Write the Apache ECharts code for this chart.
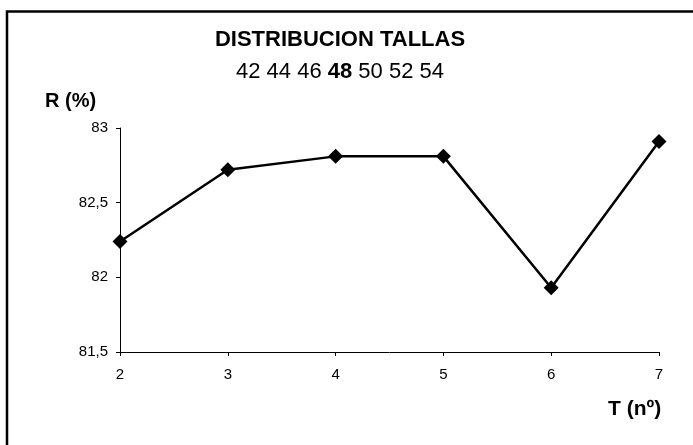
<!DOCTYPE html>
<html>
<head>
<meta charset="utf-8">
<script src="https://cdn.jsdelivr.net/npm/echarts@6/dist/echarts.min.js"></script>
<style>
  html, body { margin: 0; padding: 0; background: #fff; }
  #chart { width: 693px; height: 445px; }
</style>
</head>
<body>
<div id="chart"></div>
<script>
// Number of sizes (T) and the resulting percentage (R)
const tallas = ['2', '3', '4', '5', '6', '7'];
const rValues = [82.24, 82.72, 82.81, 82.81, 81.93, 82.91];
const yTicks = { min: 81.5, max: 83, step: 0.5 };

const FONT = 'Arial, "Liberation Sans", sans-serif';
const chart = echarts.init(document.getElementById('chart'), null, { renderer: 'canvas' });

chart.setOption({
  backgroundColor: '#fff',
  animation: false,
  title: {
    text: 'DISTRIBUCION TALLAS',
    subtext: '42 44 46 {b|48} 50 52 54',
    left: 340,
    textAlign: 'center',
    top: 29,
    itemGap: 10,
    padding: 0,
    textStyle: { fontFamily: FONT, fontSize: 22, fontWeight: 'bold', color: '#000' },
    subtextStyle: {
      fontFamily: FONT, fontSize: 22, color: '#000',
      rich: { b: { fontFamily: FONT, fontSize: 22, fontWeight: 'bold', color: '#000' } }
    }
  },
  grid: { left: 120, right: 34, top: 128, bottom: 93, containLabel: false },
  xAxis: {
    type: 'category',
    data: tallas,
    boundaryGap: false,
    axisLine: { lineStyle: { color: '#000', width: 1 } },
    axisTick: { show: true, length: 4, alignWithLabel: true, lineStyle: { color: '#000' } },
    axisLabel: { fontFamily: FONT, fontSize: 15, color: '#000', margin: 15 },
    splitLine: { show: false }
  },
  yAxis: {
    type: 'value',
    min: yTicks.min,
    max: yTicks.max,
    interval: yTicks.step,
    axisLine: { show: true, lineStyle: { color: '#000', width: 1 } },
    axisTick: { show: true, length: 4, lineStyle: { color: '#000' } },
    axisLabel: {
      fontFamily: FONT, fontSize: 15, color: '#000', margin: 12,
      formatter: v => String(v).replace('.', ',')
    },
    splitLine: { show: false }
  },
  graphic: [
    {
      type: 'polyline',
      shape: { points: [[7, 445], [7, 11.5], [693, 11.5]] },
      style: { stroke: '#000', lineWidth: 2.5, fill: null }
    },
    {
      type: 'text',
      left: 45, top: 91,
      style: { text: 'R (%)', font: 'bold 20px ' + FONT, fill: '#000' }
    },
    {
      type: 'text',
      left: 608, top: 399,
      style: { text: 'T (nº)', font: 'bold 21px ' + FONT, fill: '#000' }
    }
  ],
  series: [{
    type: 'line',
    data: rValues,
    symbol: 'diamond',
    symbolSize: 15,
    lineStyle: { color: '#000', width: 2.5 },
    itemStyle: { color: '#000' },
    label: { show: false }
  }]
});
</script>
</body>
</html>
